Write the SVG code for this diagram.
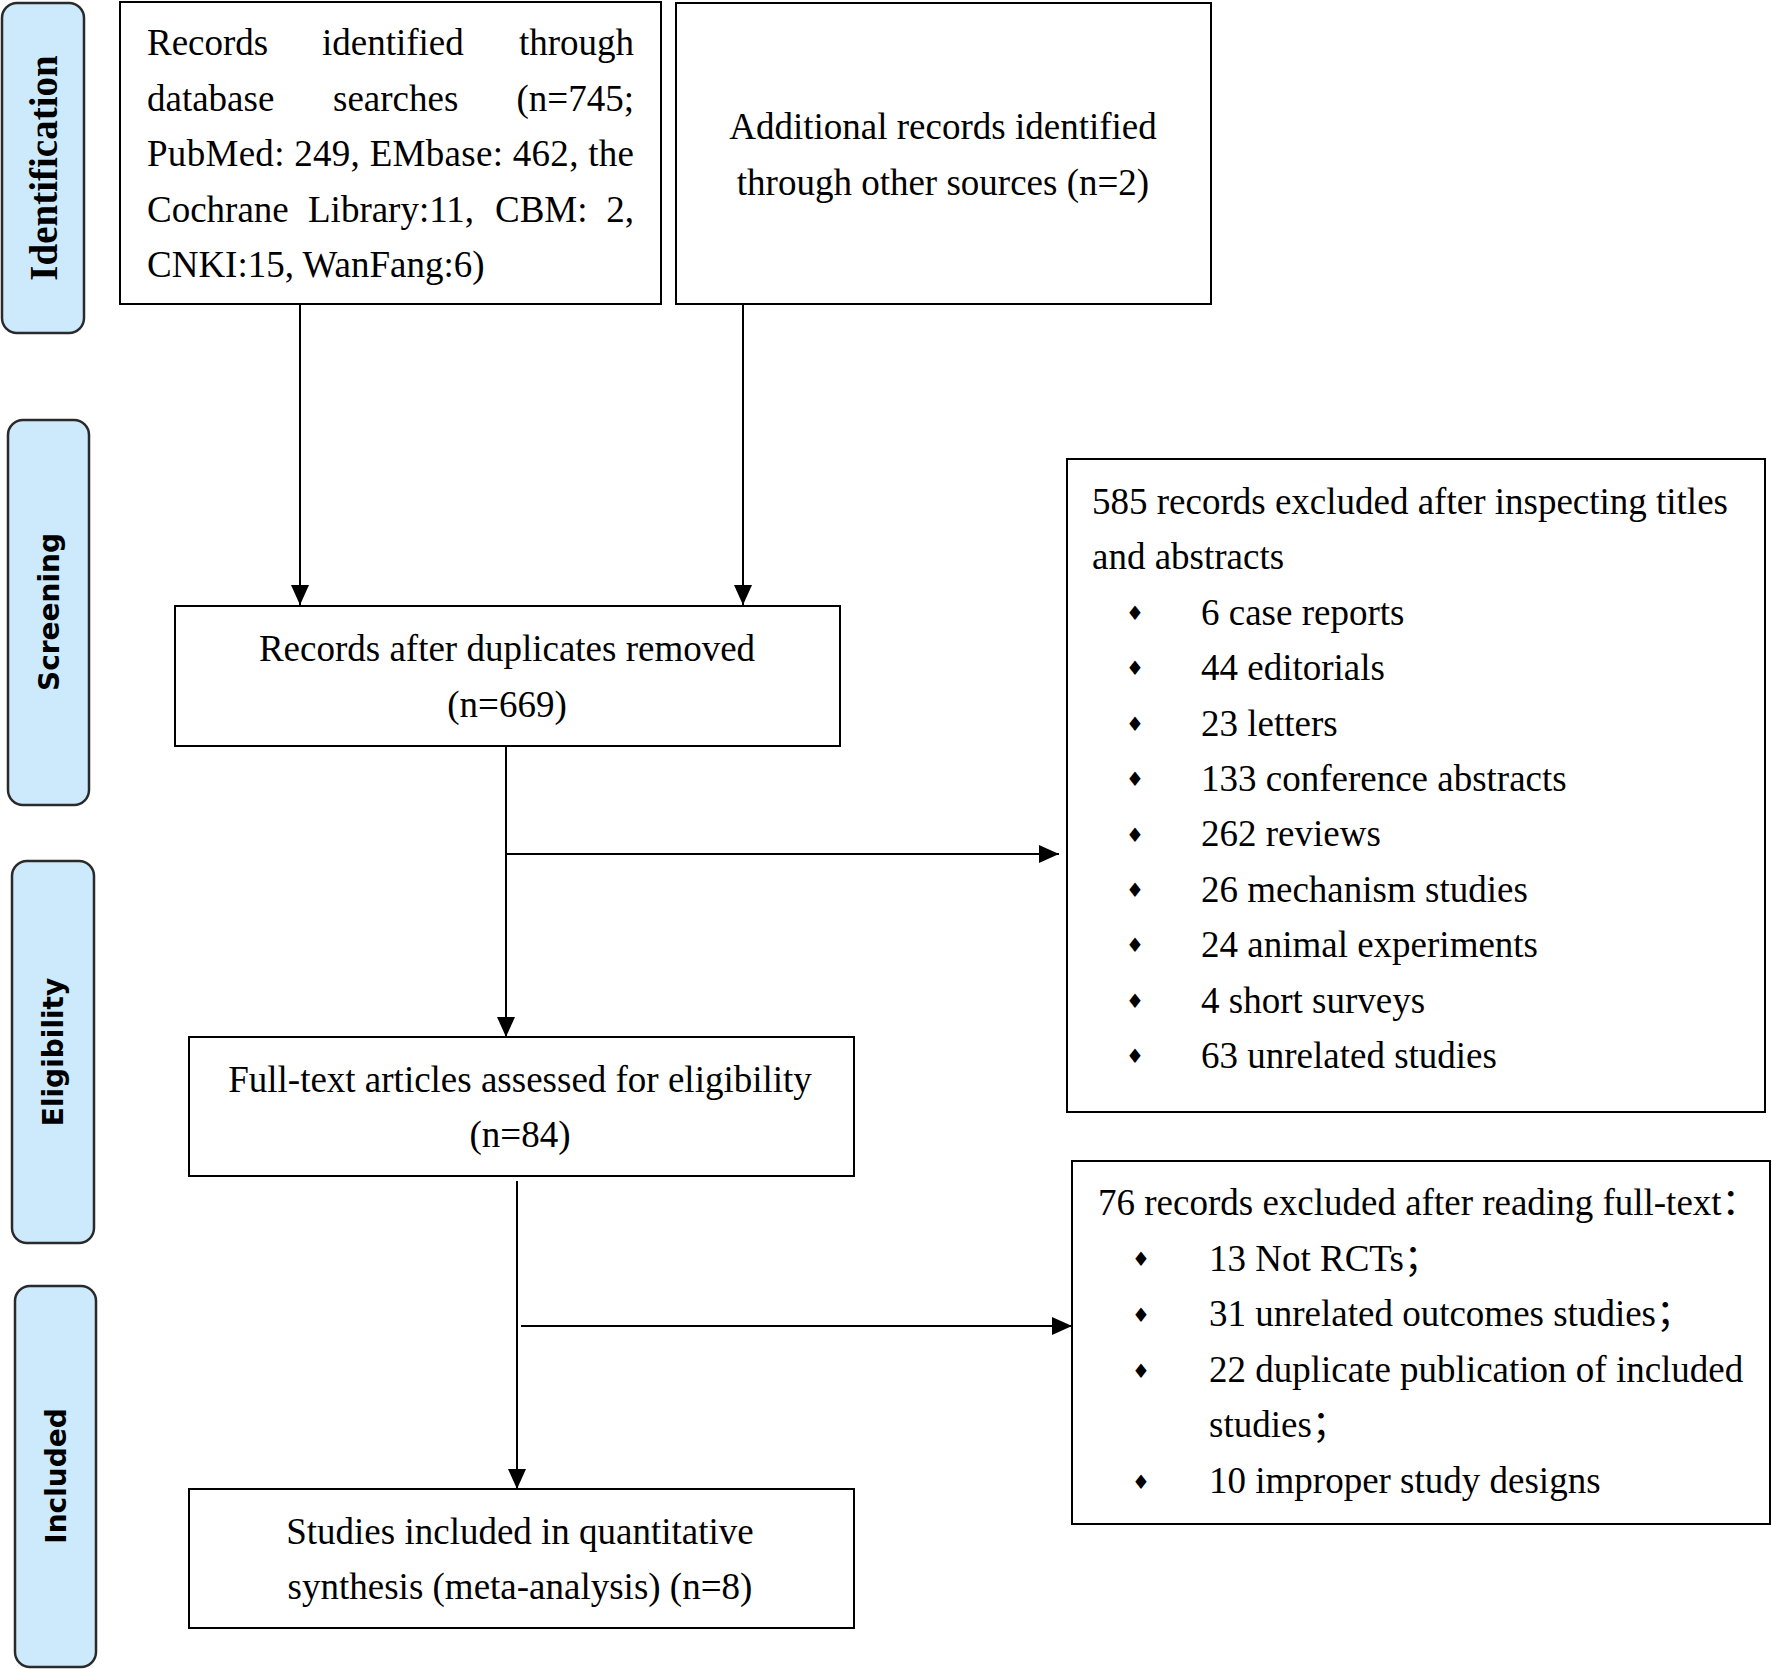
<svg xmlns="http://www.w3.org/2000/svg" width="1772" height="1669" viewBox="0 0 1772 1669">
<defs>
<style>
.box{fill:#fff;stroke:#000;stroke-width:2}
.phase{fill:#cdeafc;stroke:#2a2a2a;stroke-width:2.5}
.t{font-family:"Liberation Serif","Times New Roman","Noto Sans CJK SC",serif;font-size:37px;fill:#000}
.c{text-anchor:middle}
.e{text-anchor:end}
.ph{font-family:"DejaVu Sans",Verdana,sans-serif;font-weight:bold;font-size:28px;fill:#000;text-anchor:middle}
.phs{font-family:"Liberation Serif","Times New Roman",serif;font-weight:bold;font-size:39px;fill:#000;text-anchor:middle}
.b{font-family:"DejaVu Sans",sans-serif;font-size:20px;fill:#000;text-anchor:middle}
.ln{stroke:#000;stroke-width:2;fill:none}
</style>
<marker id="ah" viewBox="0 0 20 18" refX="20" refY="9" markerWidth="20" markerHeight="18" orient="auto" markerUnits="userSpaceOnUse">
<path d="M0,0 L20,9 L0,18 Z" fill="#000"/>
</marker>
</defs>
<rect width="1772" height="1669" fill="#fff"/>

<g id="phase-identification">
<rect class="phase" x="2" y="3" width="82" height="330" rx="15"/>
<text class="phs" transform="translate(57,168) rotate(-90)">Identification</text>
</g>
<g id="phase-screening">
<rect class="phase" x="8" y="420" width="81" height="385" rx="15"/>
<text class="ph" transform="translate(59,612) rotate(-90)">Screening</text>
</g>
<g id="phase-eligibility">
<rect class="phase" x="12" y="861" width="82" height="382" rx="15"/>
<text class="ph" transform="translate(63,1052) rotate(-90)">Eligibility</text>
</g>
<g id="phase-included">
<rect class="phase" x="15" y="1286" width="81" height="381" rx="15"/>
<text class="ph" transform="translate(66,1476) rotate(-90)">Included</text>
</g>

<g id="node-records-identified">
<rect class="box" x="120" y="2" width="541" height="302"/>
<text class="t" x="147" y="55">Records</text>
<text class="t" x="322" y="55">identified</text>
<text class="t e" x="634" y="55">through</text>
<text class="t" x="147" y="110.5">database</text>
<text class="t" x="333" y="110.5">searches</text>
<text class="t e" x="634" y="110.5">(n=745;</text>
<text class="t" x="147" y="166" textLength="487" lengthAdjust="spacing">PubMed: 249, EMbase: 462, the</text>
<text class="t" x="147" y="221.5">Cochrane</text>
<text class="t" x="308" y="221.5">Library:11,</text>
<text class="t" x="495" y="221.5">CBM:</text>
<text class="t e" x="634" y="221.5">2,</text>
<text class="t" x="147" y="277">CNKI:15, WanFang:6)</text>
</g>

<g id="node-additional-records">
<rect class="box" x="676" y="3" width="535" height="301"/>
<text class="t c" x="943" y="139">Additional records identified</text>
<text class="t c" x="943" y="195">through other sources (n=2)</text>
</g>

<g id="node-after-duplicates">
<rect class="box" x="175" y="606" width="665" height="140"/>
<text class="t c" x="507" y="661">Records after duplicates removed</text>
<text class="t c" x="507" y="717">(n=669)</text>
</g>

<g id="node-excluded-titles">
<rect class="box" x="1067" y="459" width="698" height="653"/>
<text class="t" x="1092" y="514">585 records excluded after inspecting titles</text>
<text class="t" x="1092" y="569.4">and abstracts</text>
<text class="b" x="1135" y="620">♦</text><text class="t" x="1201" y="624.8">6 case reports</text>
<text class="b" x="1135" y="675.4">♦</text><text class="t" x="1201" y="680.2">44 editorials</text>
<text class="b" x="1135" y="730.8">♦</text><text class="t" x="1201" y="735.6">23 letters</text>
<text class="b" x="1135" y="786.2">♦</text><text class="t" x="1201" y="791">133 conference abstracts</text>
<text class="b" x="1135" y="841.6">♦</text><text class="t" x="1201" y="846.4">262 reviews</text>
<text class="b" x="1135" y="897">♦</text><text class="t" x="1201" y="901.8">26 mechanism studies</text>
<text class="b" x="1135" y="952.4">♦</text><text class="t" x="1201" y="957.2">24 animal experiments</text>
<text class="b" x="1135" y="1007.8">♦</text><text class="t" x="1201" y="1012.6">4 short surveys</text>
<text class="b" x="1135" y="1063.2">♦</text><text class="t" x="1201" y="1068">63 unrelated studies</text>
</g>

<g id="node-full-text">
<rect class="box" x="189" y="1037" width="665" height="139"/>
<text class="t c" x="520" y="1092">Full-text articles assessed for eligibility</text>
<text class="t c" x="520" y="1147">(n=84)</text>
</g>

<g id="node-excluded-fulltext">
<rect class="box" x="1072" y="1161" width="698" height="363"/>
<text class="t" x="1098" y="1215">76 records excluded after reading full-text：</text>
<text class="b" x="1141" y="1266">♦</text><text class="t" x="1209" y="1270.5">13 Not RCTs；</text>
<text class="b" x="1141" y="1322">♦</text><text class="t" x="1209" y="1326">31 unrelated outcomes studies；</text>
<text class="b" x="1141" y="1377.5">♦</text><text class="t" x="1209" y="1381.5">22 duplicate publication of included</text>
<text class="t" x="1209" y="1437">studies；</text>
<text class="b" x="1141" y="1489">♦</text><text class="t" x="1209" y="1493">10 improper study designs</text>
</g>

<g id="node-included">
<rect class="box" x="189" y="1489" width="665" height="139"/>
<text class="t c" x="520" y="1544">Studies included in quantitative</text>
<text class="t c" x="520" y="1599">synthesis (meta-analysis) (n=8)</text>
</g>

<g id="connectors">
<line class="ln" x1="300" y1="304" x2="300" y2="605" marker-end="url(#ah)"/>
<line class="ln" x1="743" y1="304" x2="743" y2="605" marker-end="url(#ah)"/>
<line class="ln" x1="506" y1="746" x2="506" y2="1037" marker-end="url(#ah)"/>
<line class="ln" x1="506" y1="854" x2="1059" y2="854" marker-end="url(#ah)"/>
<line class="ln" x1="517" y1="1181" x2="517" y2="1489" marker-end="url(#ah)"/>
<line class="ln" x1="521" y1="1326" x2="1072" y2="1326" marker-end="url(#ah)"/>
</g>
</svg>
